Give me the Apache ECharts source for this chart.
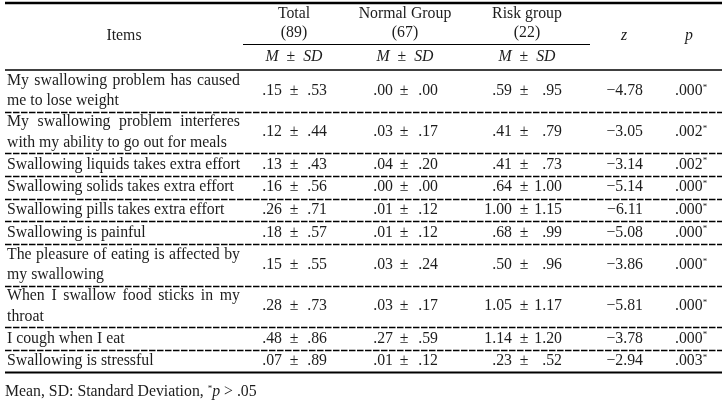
<!DOCTYPE html>
<html><head><meta charset="utf-8">
<script src="https://cdn.jsdelivr.net/npm/echarts@6/dist/echarts.min.js"></script>
<style>html,body{margin:0;padding:0;background:#fff}#c{width:725px;height:404px}</style>
</head><body><div id="c"></div>
<script>
// ---------- data ----------
const items = [
  'My swallowing problem has caused\nme to lose weight',
  'My swallowing problem interferes\nwith my ability to go out for meals',
  'Swallowing liquids takes extra effort',
  'Swallowing solids takes extra effort',
  'Swallowing pills takes extra effort',
  'Swallowing is painful',
  'The pleasure of eating is affected by\nmy swallowing',
  'When I swallow food sticks in my\nthroat',
  'I cough when I eat',
  'Swallowing is stressful'
];
const totalM   = [0.15, 0.12, 0.13, 0.16, 0.26, 0.18, 0.15, 0.28, 0.48, 0.07];
const totalSD  = [0.53, 0.44, 0.43, 0.56, 0.71, 0.57, 0.55, 0.73, 0.86, 0.89];
const normalM  = [0.00, 0.03, 0.04, 0.00, 0.01, 0.01, 0.03, 0.03, 0.27, 0.01];
const normalSD = [0.00, 0.17, 0.20, 0.00, 0.12, 0.12, 0.24, 0.17, 0.59, 0.12];
const riskM    = [0.59, 0.41, 0.41, 0.64, 1.00, 0.68, 0.50, 1.05, 1.14, 0.23];
const riskSD   = [0.95, 0.79, 0.73, 1.00, 1.15, 0.99, 0.96, 1.17, 1.20, 0.52];
const zValues  = [-4.78, -3.05, -3.14, -5.14, -6.11, -5.08, -3.86, -5.81, -3.78, -2.94];
const pValues  = [0.000, 0.002, 0.002, 0.000, 0.000, 0.000, 0.000, 0.000, 0.000, 0.003];
const groupNames = ['Total', 'Normal Group', 'Risk group'];
const groupNs = [89, 67, 22];
const itemsHeader = 'Items';
const zHeader = 'z';
const pHeader = 'p';
const footnote = ['Mean, SD: Standard Deviation, ', '*', 'p', ' > .05'];

// ---------- layout / style ----------
const FAMILY = '"Liberation Serif", "Times New Roman", serif';
const FS = 15.8;
const INK = '#1c1c1c';
const L = {
  left: 5, right: 722, textLeft: 7, textRight: 240, itemsCx: 124,
  groups: [
    {cx: 294, pm: 294, meanR: 282, sdR: 327},
    {cx: 405, pm: 404, meanR: 393, sdR: 438},
    {cx: 527, pm: 524, meanR: 512, sdR: 562}
  ],
  zR: 643, zCx: 624, pL: 675, pCx: 689,
  top: 3, headerH: 67, lineH: 18.75, rowPad: 4, textLine: 20.5,
  groupLineL: 243, groupLineR: 590,
  hdrTitleY: 14, hdrNY: 33, hdrLineY: 44, hdrMsdY: 57, hdrMidY: 36,
  footY: 392
};

const groupM = [totalM, normalM, riskM];
const groupSD = [totalSD, normalSD, riskSD];
const fmt2 = v => v.toFixed(2).replace(/^0\./, '.');
const fmtZ = v => (v < 0 ? '\u2212' : '') + Math.abs(v).toFixed(2);
const fmtP = v => v.toFixed(3).replace(/^0\./, '.');

const nLines = items.map(s => s.split('\n').length);
const rowH = nLines.map(n => L.rowPad + L.lineH * n);
const rowTop = [];
let acc = L.top + L.headerH;
rowH.forEach(h => { rowTop.push(acc); acc += h; });
const tableBottom = acc;

const ctx = document.createElement('canvas').getContext('2d');
ctx.font = FS + 'px ' + FAMILY;
const measure = s => ctx.measureText(s).width;

function txt(x, y, text, align, extra) {
  return {
    type: 'text', x: x, y: y, silent: true,
    style: Object.assign({
      text: text, fill: INK, fontSize: FS, fontFamily: FAMILY,
      align: align, textAlign: align, verticalAlign: 'middle', textVerticalAlign: 'middle'
    }, extra || {})
  };
}
function hline(x1, x2, y, w, dash) {
  return {
    type: 'line', silent: true,
    shape: {x1: x1, y1: y, x2: x2, y2: y},
    style: {stroke: '#000', lineWidth: w, lineDash: dash || null}
  };
}
const supRich = {
  n: {fontSize: FS, fontFamily: FAMILY, fill: INK},
  s: {fontSize: 9, fontFamily: FAMILY, fill: INK, verticalAlign: 'top', lineHeight: 16},
  i: {fontSize: FS, fontFamily: FAMILY, fill: INK, fontStyle: 'italic'}
};

function renderRow(params, api) {
  const i = params.dataIndex;
  const X = v => api.coord([v, 0])[0];
  const Y = v => api.coord([0, v])[1];
  const top = Y(rowTop[i]), bot = Y(rowTop[i] + rowH[i]);
  const mid = (top + bot) / 2;
  const children = [];
  const lines = items[i].split('\n');
  const x0 = X(L.textLeft), x1 = X(L.textRight);
  lines.forEach((ln, k) => {
    const y = mid + (k - (lines.length - 1) / 2) * L.textLine;
    const justify = lines.length > 1 && k < lines.length - 1;
    if (justify) {
      const words = ln.split(' ');
      const ws = words.map(measure);
      const sum = ws.reduce((a, b) => a + b, 0);
      const gap = (x1 - x0 - sum) / (words.length - 1);
      let cx = x0;
      words.forEach((w, j) => { children.push(txt(cx, y, w, 'left')); cx += ws[j] + gap; });
    } else {
      children.push(txt(x0, y, ln, 'left'));
    }
  });
  L.groups.forEach((g, gi) => {
    children.push(txt(X(g.meanR), mid, fmt2(groupM[gi][i]), 'right'));
    children.push(txt(X(g.pm), mid, '\u00b1', 'center'));
    children.push(txt(X(g.sdR), mid, fmt2(groupSD[gi][i]), 'right'));
  });
  children.push(txt(X(L.zR), mid, fmtZ(zValues[i]), 'right'));
  children.push(txt(X(L.pL), mid, '{n|' + fmtP(pValues[i]) + '}{s|*}', 'left', {rich: supRich}));
  if (i < items.length - 1) {
    children.push(hline(X(L.left), X(L.right), Math.round(bot) + 0.5, 1.3, [6.5, 1.5]));
  }
  return {type: 'group', children: children};
}

function renderFrame(params, api) {
  const X = v => api.coord([v, 0])[0];
  const Y = v => api.coord([0, v])[1];
  const c = [];
  c.push(hline(X(L.left), X(L.right), Y(L.top), 2.5));
  c.push(txt(X(L.itemsCx), Y(L.hdrMidY), itemsHeader, 'center'));
  L.groups.forEach((g, gi) => {
    c.push(txt(X(g.cx), Y(L.hdrTitleY), groupNames[gi], 'center'));
    c.push(txt(X(g.cx), Y(L.hdrNY), '(' + groupNs[gi] + ')', 'center'));
    c.push(txt(X(g.cx), Y(L.hdrMsdY), '{i|M}\u2002\u00b1\u2002{i|SD}', 'center', {rich: supRich}));
  });
  c.push(hline(X(L.groupLineL), X(L.groupLineR), Y(L.hdrLineY) + 0.5, 1));
  c.push(txt(X(L.zCx), Y(L.hdrMidY), zHeader, 'center', {fontStyle: 'italic'}));
  c.push(txt(X(L.pCx), Y(L.hdrMidY), pHeader, 'center', {fontStyle: 'italic'}));
  c.push(hline(X(L.left), X(L.right), Y(L.top + L.headerH), 1.5));
  c.push(hline(X(L.left), X(L.right), Y(tableBottom), 2));
  c.push(txt(X(L.left), Y(L.footY),
    '{n|' + footnote[0] + '}{s|' + footnote[1] + '}{i|' + footnote[2] + '}{n|' + footnote[3] + '}',
    'left', {rich: supRich}));
  return {type: 'group', children: c};
}

const chart = echarts.init(document.getElementById('c'), null, {renderer: 'canvas'});
chart.setOption({
  animation: false,
  backgroundColor: '#fff',
  grid: {left: 0, right: 0, top: 0, bottom: 0},
  xAxis: {type: 'value', min: 0, max: 725, show: false},
  yAxis: {type: 'value', min: 0, max: 404, inverse: true, show: false},
  series: [
    {type: 'custom', renderItem: renderFrame, data: [[0, 0]], silent: true},
    {type: 'custom', renderItem: renderRow, data: items.map((_, i) => [i, rowTop[i]]), silent: true}
  ]
});
</script>
</body></html>
